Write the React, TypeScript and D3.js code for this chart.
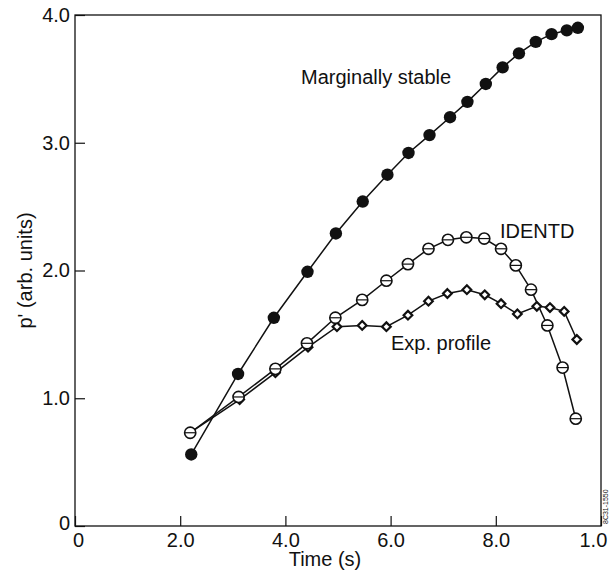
import React, { useEffect, useRef } from 'react';
import * as d3 from 'd3';

const WIDTH = 609;
const HEIGHT = 573;

// Marginally stable (filled circles)
const stableTime = [2.21, 3.1, 3.78, 4.42, 4.96, 5.47, 5.94, 6.34, 6.74, 7.13, 7.46, 7.81, 8.13, 8.44, 8.76, 9.06, 9.35, 9.56];
const stableP = [0.56, 1.19, 1.63, 1.99, 2.29, 2.54, 2.75, 2.92, 3.06, 3.2, 3.32, 3.46, 3.59, 3.7, 3.79, 3.85, 3.88, 3.9];

// IDENTD (open circles)
const identdTime = [2.19, 3.11, 3.81, 4.41, 4.95, 5.46, 5.92, 6.33, 6.72, 7.09, 7.44, 7.78, 8.1, 8.38, 8.67, 8.98, 9.27, 9.52];
const identdP = [0.73, 1.01, 1.23, 1.43, 1.63, 1.77, 1.92, 2.05, 2.17, 2.24, 2.26, 2.25, 2.17, 2.04, 1.85, 1.57, 1.24, 0.84];

// Exp. profile (diamonds)
const expTime = [2.19, 3.13, 3.81, 4.43, 4.98, 5.46, 5.92, 6.33, 6.72, 7.08, 7.45, 7.79, 8.1, 8.41, 8.78, 9.03, 9.3, 9.54];
const expP = [0.73, 0.99, 1.2, 1.4, 1.56, 1.57, 1.56, 1.65, 1.76, 1.82, 1.85, 1.81, 1.74, 1.66, 1.72, 1.71, 1.68, 1.46];

const xTicks = [0, 2, 4, 6, 8, 10];
const xTickLabels = ['0', '2.0', '4.0', '6.0', '8.0', '1.0'];
const yTicks = [0, 1, 2, 3, 4];
const yTickLabels = ['0', '1.0', '2.0', '3.0', '4.0'];

const FONT = '"Liberation Sans", Arial, Helvetica, sans-serif';

const App = () => {
  const svgRef = useRef(null);

  useEffect(() => {
    const svg = d3.select(svgRef.current);
    svg.selectAll('*').remove();

    const x = d3.scaleLinear().domain([0, 10]).range([75, 601]);
    const y = d3.scaleLinear().domain([0, 4]).range([526, 15]);

    const zip = (ts, ps) => ts.map((t, i) => ({ t, p: ps[i] }));
    const stable = zip(stableTime, stableP);
    const identd = zip(identdTime, identdP);
    const exp = zip(expTime, expP);

    // frame
    svg.append('rect')
      .attr('x', x(0)).attr('y', y(4))
      .attr('width', x(10) - x(0)).attr('height', y(0) - y(4))
      .attr('fill', 'none').attr('stroke', '#111').attr('stroke-width', 1.3);

    // axes, ticks pointing inward
    const xAxis = svg.append('g')
      .attr('transform', `translate(0, ${y(0)})`)
      .call(d3.axisBottom(x).tickValues(xTicks).tickSize(-10).tickPadding(7)
        .tickFormat((d, i) => xTickLabels[i]));
    const yAxis = svg.append('g')
      .attr('transform', `translate(${x(0)}, 0)`)
      .call(d3.axisLeft(y).tickValues(yTicks).tickSize(-10).tickPadding(5)
        .tickFormat((d, i) => yTickLabels[i]));

    [xAxis, yAxis].forEach(a => {
      a.select('.domain').remove();
      a.selectAll('line').attr('stroke', '#111').attr('stroke-width', 1.2);
      a.selectAll('text')
        .attr('fill', '#111')
        .style('font-family', FONT)
        .style('font-size', '20px');
    });
    // origin and end labels sit slightly off their ticks
    xAxis.selectAll('text').filter((d) => d === 0).attr('dx', 3);
    xAxis.selectAll('text').filter((d) => d === 10).attr('text-anchor', 'start').attr('dx', -22);
    yAxis.selectAll('text').filter((d) => d === 0).attr('dy', '0.15em');

    // axis titles
    svg.append('text')
      .attr('x', 325).attr('y', 566)
      .attr('text-anchor', 'middle')
      .style('font-family', FONT).style('font-size', '20px').attr('fill', '#111')
      .text('Time (s)');
    svg.append('text')
      .attr('transform', `translate(32, ${(y(0) + y(4)) / 2}) rotate(-90)`)
      .attr('text-anchor', 'middle')
      .style('font-family', FONT).style('font-size', '20px').attr('fill', '#111')
      .text("p' (arb. units)");

    // lines
    const line = d3.line().x(d => x(d.t)).y(d => y(d.p));
    [exp, identd, stable].forEach(s => {
      svg.append('path')
        .datum(s)
        .attr('d', line)
        .attr('fill', 'none')
        .attr('stroke', '#111')
        .attr('stroke-width', 1.5);
    });

    // diamonds
    svg.selectAll('.diamond')
      .data(exp)
      .enter().append('path')
      .attr('class', 'diamond')
      .attr('d', d3.symbol().type(d3.symbolDiamond2).size(48))
      .attr('transform', d => `translate(${x(d.t)}, ${y(d.p)})`)
      .attr('fill', '#fff')
      .attr('stroke', '#111')
      .attr('stroke-width', 2.2);

    // open circles
    svg.selectAll('.open')
      .data(identd)
      .enter().append('circle')
      .attr('class', 'open')
      .attr('cx', d => x(d.t))
      .attr('cy', d => y(d.p))
      .attr('r', 5.6)
      .attr('fill', '#fff')
      .attr('stroke', '#111')
      .attr('stroke-width', 1.6);
    svg.selectAll('.open-bar')
      .data(identd)
      .enter().append('line')
      .attr('class', 'open-bar')
      .attr('x1', d => x(d.t) - 5.6).attr('x2', d => x(d.t) + 5.6)
      .attr('y1', d => y(d.p)).attr('y2', d => y(d.p))
      .attr('stroke', '#111').attr('stroke-width', 1.2);

    // filled circles
    svg.selectAll('.filled')
      .data(stable)
      .enter().append('circle')
      .attr('class', 'filled')
      .attr('cx', d => x(d.t))
      .attr('cy', d => y(d.p))
      .attr('r', 6.2)
      .attr('fill', '#111');

    // curve labels
    const labels = [
      { text: 'Marginally stable', x: 301, y: 84 },
      { text: 'IDENTD', x: 500, y: 238 },
      { text: 'Exp. profile', x: 391, y: 350 }
    ];
    svg.selectAll('.curve-label')
      .data(labels)
      .enter().append('text')
      .attr('class', 'curve-label')
      .attr('x', d => d.x).attr('y', d => d.y)
      .style('font-family', FONT).style('font-size', '20px').attr('fill', '#111')
      .text(d => d.text);

    // figure id, tiny and sideways
    svg.append('text')
      .attr('transform', 'translate(608, 524) rotate(-90)')
      .style('font-family', FONT).style('font-size', '7px').attr('fill', '#111')
      .text('8C31-1550');
  }, []);

  return (
    <svg
      ref={svgRef}
      width={WIDTH}
      height={HEIGHT}
      style={{ position: 'absolute', left: 0, top: 0, background: '#fff' }}
    />
  );
};

export default App;
